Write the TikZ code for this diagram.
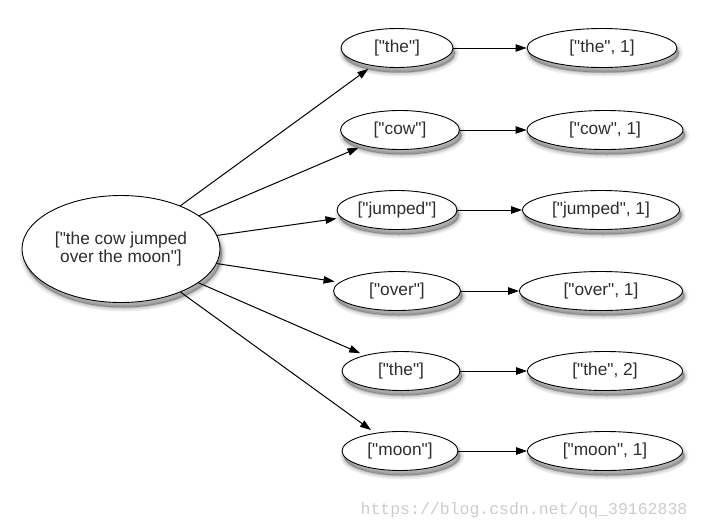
\documentclass[tikz,border=0pt]{standalone}
\usepackage{fontspec}
\setmainfont{Liberation Sans}
\newfontfamily\wmfont{Liberation Mono}
\usetikzlibrary{arrows.meta,shapes.geometric,shadows}
\newcommand\dq{\textquotedbl}
\tikzset{
  softshadow/.style={
    general shadow={shadow xshift=2pt, shadow yshift=-5pt, draw=black, line width=8pt, opacity=0.07, fill=black},
    general shadow={shadow xshift=2pt, shadow yshift=-5pt, draw=black, line width=4.5pt, opacity=0.09, fill=black},
    general shadow={shadow xshift=2pt, shadow yshift=-5pt, draw=black, line width=1.5pt, opacity=0.14, fill=black}},
  oval/.style={ellipse, draw=black, line width=0.9pt, fill=white, inner sep=0pt,
    minimum height=39pt, softshadow, text=black!82,
    font=\fontsize{17.3}{18.5}\selectfont, align=center},
  conn/.style={line width=1pt, -{Triangle[length=11pt,width=7.5pt]}},
}
\begin{document}
\begin{tikzpicture}[x=1pt,y=-1pt]
\useasboundingbox (0,0) rectangle (701,528);
\node[oval, minimum width=198pt, minimum height=107pt] (big) at (121,249) {[\dq the cow jumped\\over the moon\dq]};
\node[oval, minimum width=112pt] (m1) at (397,48) {[\dq the\dq]};
\node[oval, minimum width=150pt] (r1) at (602,48) {[\dq the\dq, 1]};
\node[oval, minimum width=119pt] (m2) at (400,130) {[\dq cow\dq]};
\node[oval, minimum width=156pt] (r2) at (605,130) {[\dq cow\dq, 1]};
\node[oval, minimum width=120pt] (m3) at (397,210) {[\dq jumped\dq]};
\node[oval, minimum width=157pt] (r3) at (601,210) {[\dq jumped\dq, 1]};
\node[oval, minimum width=127pt] (m4) at (397,291) {[\dq over\dq]};
\node[oval, minimum width=163pt] (r4) at (601,291) {[\dq over\dq, 1]};
\node[oval, minimum width=118pt] (m5) at (401,371) {[\dq the\dq]};
\node[oval, minimum width=155pt] (r5) at (605,371) {[\dq the\dq, 2]};
\node[oval, minimum width=116pt] (m6) at (400,451) {[\dq moon\dq]};
\node[oval, minimum width=155pt] (r6) at (605,451) {[\dq moon\dq, 1]};
\foreach \i in {1,...,6} {
  \draw[conn, shorten >=5pt] (big) -- (m\i);
  \draw[conn] (m\i) -- (r\i);
}
\node[font=\wmfont\fontsize{16.5}{18}\selectfont, text=black!20, anchor=base] (wm) at (524,514) {https://blog.csdn.net/qq\_39162838};
\end{tikzpicture}
\end{document}
